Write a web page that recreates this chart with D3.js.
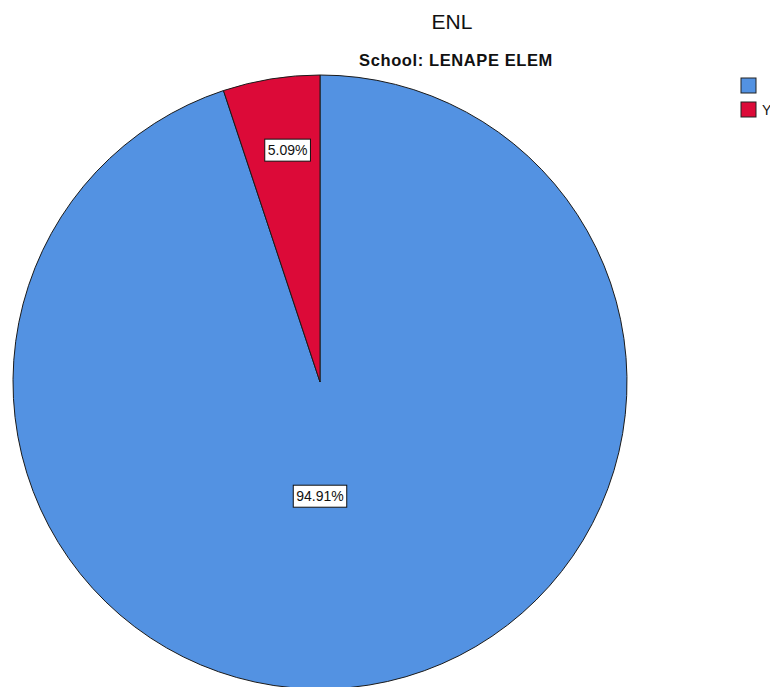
<!DOCTYPE html>
<html>
<head>
<meta charset="utf-8">
<script src="https://cdn.jsdelivr.net/npm/d3@7"></script>
<style>
  html, body { margin: 0; padding: 0; background: #fff; overflow: hidden; }
  svg { display: block; font-family: "Liberation Sans", Arial, sans-serif; }
</style>
</head>
<body>
<svg id="chart" width="770" height="687"></svg>
<script>
// ENL status share for one school (blank category = not ENL)
const categories = ["", "Yes"];
const percents = [94.91, 5.09];
const colors = ["#5392e2", "#dc0a38"];

const title = "ENL";
const subtitle = "School: LENAPE ELEM";

const svg = d3.select("#chart");
const cx = 320, cy = 382, R = 307;

// titles
svg.append("text")
  .attr("x", 452).attr("y", 29)
  .attr("text-anchor", "middle")
  .attr("font-size", 21)
  .attr("fill", "#111")
  .text(title);
svg.append("text")
  .attr("x", 456).attr("y", 66)
  .attr("text-anchor", "middle")
  .attr("font-size", 16.5)
  .attr("font-weight", "bold")
  .attr("letter-spacing", 0.6)
  .attr("fill", "#111")
  .text(subtitle);

// pie, clockwise from 12 o'clock in category order
const pie = d3.pie().sort(null).value(d => d.value);
const data = categories.map((c, i) => ({ idx: i, cat: c, value: percents[i], color: colors[i] }));
const arcs = pie(data);
const arc = d3.arc().innerRadius(0).outerRadius(R);

const g = svg.append("g").attr("transform", `translate(${cx},${cy})`);
g.selectAll("path.slice")
  .data(arcs)
  .join("path")
  .attr("class", "slice")
  .attr("d", arc)
  .attr("fill", d => d.data.color)
  .attr("stroke", "#1a1a1a")
  .attr("stroke-width", 1)
  .attr("stroke-linejoin", "round");

// value labels: boxed text inside each slice
function labelPos(d) {
  if (d.data.idx === 0) return [0, 0.372 * R];
  const a = (d.startAngle + d.endAngle) / 2, r = 0.765 * R;
  return [Math.sin(a) * r + 5, -Math.cos(a) * r];
}
arcs.forEach(d => {
  const [x, y] = labelPos(d);
  const lg = g.append("g").attr("transform", `translate(${x},${y})`);
  const t = lg.append("text")
    .attr("text-anchor", "middle")
    .attr("dominant-baseline", "central")
    .attr("font-size", 14)
    .attr("fill", "#111")
    .text(d3.format(".2f")(d.data.value) + "%");
  const bb = t.node().getBBox();
  lg.insert("rect", "text")
    .attr("x", bb.x - 3).attr("y", -11)
    .attr("width", bb.width + 6).attr("height", 22)
    .attr("fill", "#fff")
    .attr("stroke", "#111")
    .attr("stroke-width", 1);
});

// legend
const leg = svg.append("g").attr("transform", "translate(741,78)");
const items = leg.selectAll("g").data(categories).join("g")
  .attr("transform", (d, i) => `translate(0,${i * 24})`);
items.append("rect")
  .attr("width", 15).attr("height", 15)
  .attr("fill", (d, i) => colors[i])
  .attr("stroke", "#222").attr("stroke-width", 1);
items.append("text")
  .attr("x", 21).attr("y", 12.5)
  .attr("font-size", 14)
  .attr("fill", "#111")
  .text(d => d);
</script>
</body>
</html>
